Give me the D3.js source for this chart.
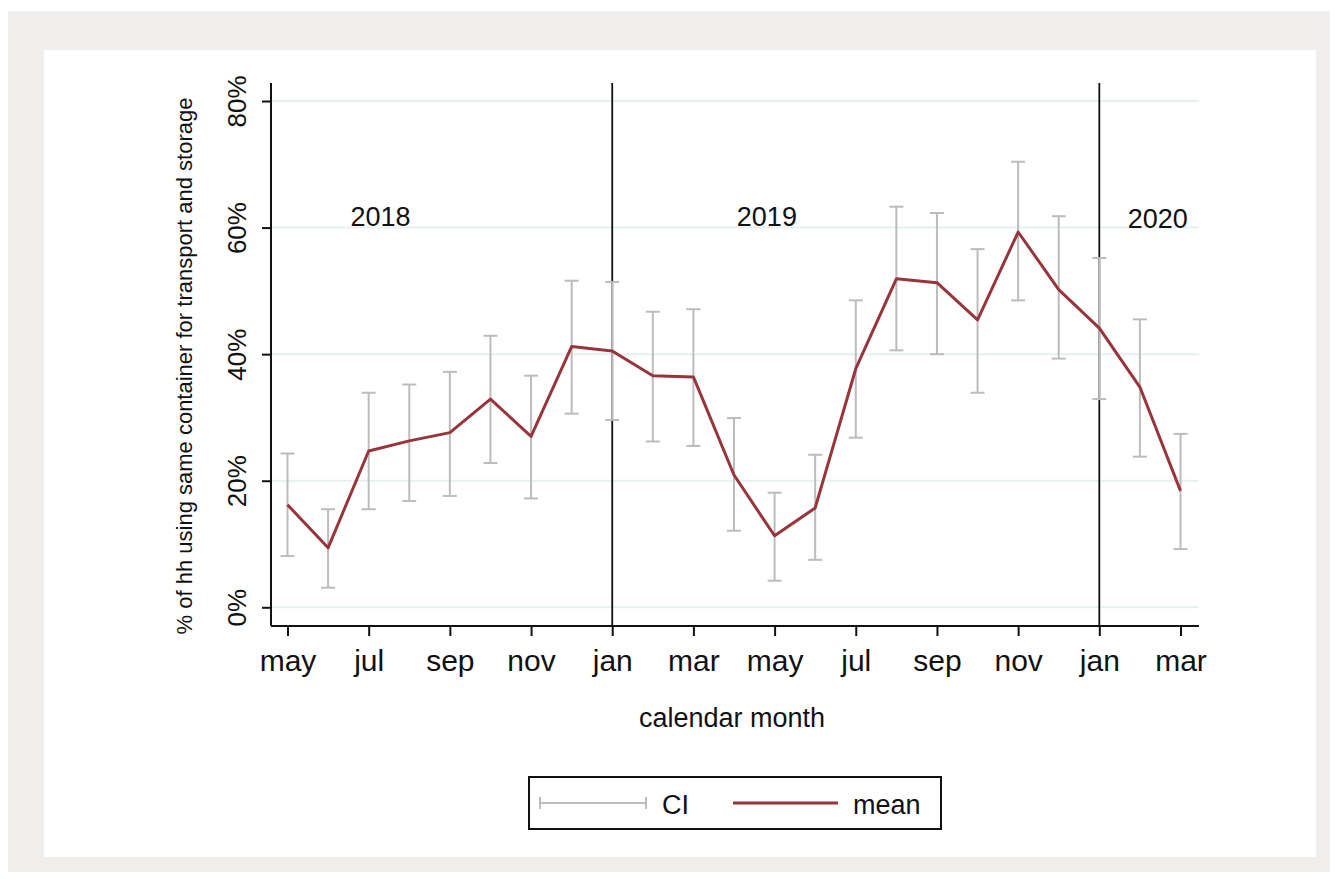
<!DOCTYPE html>
<html>
<head>
<meta charset="utf-8">
<script src="https://cdn.jsdelivr.net/npm/d3@7"></script>
<style>
  html, body { margin: 0; padding: 0; background: #ffffff; }
  svg { display: block; }
  text { font-family: "Liberation Sans", Arial, sans-serif; fill: #111; }
</style>
</head>
<body>
<svg id="chart" width="1338" height="886"></svg>
<script>
// Monthly series, May 2018 – Mar 2020 (percent of households)
const months = ["2018-05","2018-06","2018-07","2018-08","2018-09","2018-10","2018-11","2018-12",
                "2019-01","2019-02","2019-03","2019-04","2019-05","2019-06","2019-07","2019-08",
                "2019-09","2019-10","2019-11","2019-12","2020-01","2020-02","2020-03"];
const meanValues = [16.2, 9.4, 24.7, 26.3, 27.6, 32.9, 27.0, 41.2,
                    40.5, 36.6, 36.4, 20.9, 11.3, 15.7, 37.7, 51.9,
                    51.3, 45.4, 59.3, 50.2, 44.1, 34.8, 18.4];
const ciLower = [8.1, 3.1, 15.5, 16.8, 17.6, 22.8, 17.2, 30.6,
                 29.6, 26.2, 25.5, 12.1, 4.2, 7.5, 26.8, 40.6,
                 40.0, 33.9, 48.5, 39.3, 32.9, 23.8, 9.2];
const ciUpper = [24.3, 15.5, 33.9, 35.2, 37.2, 42.9, 36.6, 51.6,
                 51.4, 46.7, 47.1, 29.9, 18.1, 24.1, 48.5, 63.3,
                 62.3, 56.6, 70.4, 61.8, 55.2, 45.5, 27.4];
const yTicks = [0, 20, 40, 60, 80];
const xTickMonths = ["2018-05","2018-07","2018-09","2018-11","2019-01","2019-03",
                     "2019-05","2019-07","2019-09","2019-11","2020-01","2020-03"];
const monthNames = ["jan","feb","mar","apr","may","jun","jul","aug","sep","oct","nov","dec"];
const yearBreaks = ["2019-01","2020-01"];
const yearLabels = ["2018","2019","2020"];

const idx = m => months.indexOf(m);
const monthLabel = i => monthNames[+months[i].slice(5) - 1];

const svg = d3.select("#chart");

// Page frame
svg.append("rect").attr("x", 8).attr("y", 11).attr("width", 1322).attr("height", 861).attr("fill", "#efeeed");
svg.append("rect").attr("x", 44).attr("y", 50).attr("width", 1272).attr("height", 807).attr("fill", "#ffffff");

const plot = { left: 271, right: 1199, top: 83, bottom: 626 };

// Months are evenly spaced along x
const x = d3.scaleLinear().domain([0, months.length - 1]).range([287.5, 1180.5]);
const y = d3.scaleLinear().domain([0, 80]).range([607.3, 101]);

// Horizontal gridlines
svg.append("g").selectAll("line").data(yTicks).join("line")
  .attr("x1", plot.left).attr("x2", plot.right)
  .attr("y1", d => y(d)).attr("y2", d => y(d))
  .attr("stroke", "#e6eff1").attr("stroke-width", 2);

// Year boundaries
svg.append("g").selectAll("line").data(yearBreaks).join("line")
  .attr("x1", d => x(idx(d))).attr("x2", d => x(idx(d)))
  .attr("y1", plot.top).attr("y2", plot.bottom)
  .attr("stroke", "#111").attr("stroke-width", 1.8);

// Year labels, placed within each year's span
const yearLabelPlace = { "2018": [2.29, 60.2], "2019": [11.81, 60.2], "2020": [21.44, 59.9] };
svg.append("g").selectAll("text").data(yearLabels).join("text")
  .attr("x", d => x(yearLabelPlace[d][0]))
  .attr("y", d => y(yearLabelPlace[d][1]))
  .attr("text-anchor", "middle")
  .attr("font-size", 27)
  .text(d => d);

// Confidence intervals
const ci = svg.append("g").attr("stroke", "#bcbcbc").attr("stroke-width", 2).attr("fill", "none");
months.forEach((m, i) => {
  const cx = x(i);
  ci.append("line").attr("x1", cx).attr("x2", cx).attr("y1", y(ciLower[i])).attr("y2", y(ciUpper[i]));
  ci.append("line").attr("x1", cx - 7).attr("x2", cx + 7).attr("y1", y(ciLower[i])).attr("y2", y(ciLower[i]));
  ci.append("line").attr("x1", cx - 7).attr("x2", cx + 7).attr("y1", y(ciUpper[i])).attr("y2", y(ciUpper[i]));
});

// Mean line
const line = d3.line().x((d, i) => x(i)).y(d => y(d));
svg.append("path").datum(meanValues)
  .attr("d", line)
  .attr("fill", "none")
  .attr("stroke", "#98353c")
  .attr("stroke-width", 3)
  .attr("stroke-linejoin", "round");

// Y axis
const yAxis = svg.append("g").attr("transform", `translate(${plot.left},0)`)
  .call(d3.axisLeft(y).tickValues(yTicks).tickSize(9).tickFormat(d => d + "%"));
yAxis.select(".domain").attr("d", `M0,${plot.top}V${plot.bottom}`).attr("stroke", "#111").attr("stroke-width", 2);
yAxis.selectAll(".tick line").attr("stroke", "#111").attr("stroke-width", 2);
yAxis.selectAll(".tick text")
  .attr("x", 0).attr("dy", 0)
  .attr("transform", "translate(-25,0) rotate(-90)")
  .attr("text-anchor", "middle")
  .attr("font-size", 26)
  .attr("font-family", "Liberation Sans, Arial, sans-serif")
  .attr("fill", "#111");

// X axis
const xAxis = svg.append("g").attr("transform", `translate(0,${plot.bottom})`)
  .call(d3.axisBottom(x).tickValues(xTickMonths.map(idx)).tickSize(10)
    .tickFormat(monthLabel));
xAxis.select(".domain").attr("d", `M${plot.left},0H${plot.right}`).attr("stroke", "#111").attr("stroke-width", 2);
xAxis.selectAll(".tick line").attr("stroke", "#111").attr("stroke-width", 2);
xAxis.selectAll(".tick text")
  .attr("y", 45).attr("dy", 0)
  .attr("font-size", 30)
  .attr("font-family", "Liberation Sans, Arial, sans-serif")
  .attr("fill", "#111");

// Axis titles
svg.append("text")
  .attr("transform", `translate(192,366) rotate(-90)`)
  .attr("text-anchor", "middle")
  .attr("font-size", 22)
  .text("% of hh using same container for transport and storage");

svg.append("text")
  .attr("x", 732).attr("y", 727)
  .attr("text-anchor", "middle")
  .attr("font-size", 27)
  .text("calendar month");

// Legend
const lg = svg.append("g");
lg.append("rect").attr("x", 529).attr("y", 777).attr("width", 412).attr("height", 52)
  .attr("fill", "#fff").attr("stroke", "#111").attr("stroke-width", 2);
const ly = 803;
const lci = lg.append("g").attr("stroke", "#bcbcbc").attr("stroke-width", 2);
lci.append("line").attr("x1", 540).attr("x2", 646).attr("y1", ly).attr("y2", ly);
lci.append("line").attr("x1", 540).attr("x2", 540).attr("y1", ly - 6).attr("y2", ly + 6);
lci.append("line").attr("x1", 646).attr("x2", 646).attr("y1", ly - 6).attr("y2", ly + 6);
lg.append("text").attr("x", 662).attr("y", ly + 11).attr("font-size", 27).text("CI");
lg.append("line").attr("x1", 733).attr("x2", 838).attr("y1", ly).attr("y2", ly)
  .attr("stroke", "#98353c").attr("stroke-width", 3);
lg.append("text").attr("x", 853).attr("y", ly + 11).attr("font-size", 27).text("mean");
</script>
</body>
</html>
